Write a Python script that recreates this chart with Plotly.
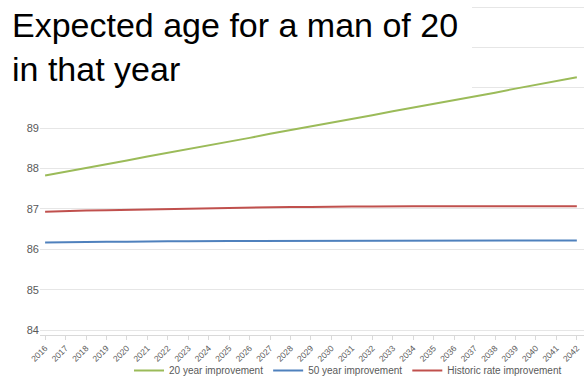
import plotly.graph_objects as go

years = list(range(2016, 2043))

improve_20yr = [87.83, 87.92, 88.02, 88.11, 88.20, 88.30, 88.39, 88.48, 88.58,
                88.67, 88.76, 88.86, 88.95, 89.04, 89.14, 89.23, 89.32, 89.42,
                89.51, 89.60, 89.70, 89.79, 89.88, 89.98, 90.07, 90.16, 90.26]

improve_50yr = [86.17, 86.18, 86.18, 86.19, 86.19, 86.20, 86.20, 86.20, 86.21,
                86.21, 86.21, 86.21, 86.21, 86.22, 86.22, 86.22, 86.22, 86.22,
                86.22, 86.22, 86.22, 86.22, 86.22, 86.22, 86.22, 86.22, 86.22]

historic_rate = [86.93, 86.95, 86.96, 86.97, 86.98, 86.99, 87.00, 87.01, 87.02,
                 87.03, 87.04, 87.04, 87.05, 87.05, 87.06, 87.06, 87.06, 87.07,
                 87.07, 87.07, 87.07, 87.07, 87.07, 87.07, 87.07, 87.07, 87.07]

y_ticks = [84, 85, 86, 87, 88, 89, 90, 91, 92]
y_tick_text = ["84", "85", "86", "87", "88", "89", "", "", ""]

series = [
    ("20 year improvement", improve_20yr, "#9BBB59"),
    ("50 year improvement", improve_50yr, "#4F81BD"),
    ("Historic rate improvement", historic_rate, "#C0504D"),
]

fig = go.Figure()
for name, vals, color in series:
    fig.add_trace(go.Scatter(x=years, y=vals, mode="lines", name=name,
                             line=dict(color=color, width=2)))

W, H = 584, 385
ml, mr, mt, mb = 40, 0, 5, 50
pw, ph = W - ml - mr, H - mt - mb

def px_x(p):
    return (p - ml) / pw

def px_y(p):
    return (H - mb - p) / ph

fig.update_layout(
    width=W, height=H,
    margin=dict(l=ml, r=mr, t=mt, b=mb, autoexpand=False),
    paper_bgcolor="white", plot_bgcolor="white",
    font=dict(family="Liberation Sans, Arial, sans-serif", color="#595959"),
    showlegend=True,
    legend=dict(orientation="h", x=px_x(348), xanchor="center",
                y=-0.005, yanchor="bottom", yref="container",
                bgcolor="rgba(0,0,0,0)",
                font=dict(size=10, color="#595959"),
                itemwidth=30, tracegroupgap=0),
    xaxis=dict(range=[2016 - 0.25, 2042 + 0.35], tickmode="array",
               tickvals=years, tickangle=-45, automargin=False,
               tickfont=dict(size=8.5, color="#595959"),
               showgrid=False, showline=True, linecolor="#D9D9D9",
               ticks="outside", ticklen=4, tickcolor="#D9D9D9",
               zeroline=False),
    yaxis=dict(range=[83.88, 92.05], tickmode="array", automargin=False,
               tickvals=y_ticks, ticktext=y_tick_text,
               tickfont=dict(size=11, color="#595959"),
               showgrid=True, gridcolor="#E6E6E6", gridwidth=1,
               showline=False, zeroline=False, ticks=""),
)

# white panel behind the title
fig.add_shape(type="rect", xref="paper", yref="paper",
              x0=px_x(0), x1=px_x(472), y0=px_y(94), y1=px_y(-2),
              fillcolor="white", line=dict(width=0), layer="above")

fig.add_annotation(
    text="Expected age for a man of 20<br>in that year",
    xref="paper", yref="paper", x=px_x(10), y=px_y(4),
    xanchor="left", yanchor="top", align="left", showarrow=False,
    font=dict(family="Liberation Sans, Arial, sans-serif", size=34, color="#000000"),
)

fig.write_html("out.html")
